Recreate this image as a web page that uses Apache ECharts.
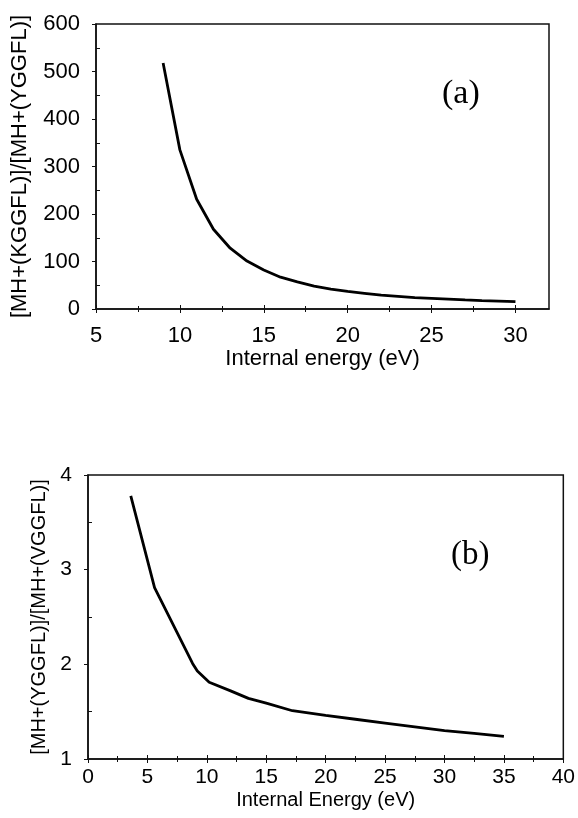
<!DOCTYPE html>
<html>
<head>
<meta charset="utf-8">
<script src="https://cdn.jsdelivr.net/npm/echarts@6/dist/echarts.min.js"></script>
<style>
  html, body { margin: 0; padding: 0; background: #fff; }
  #chart { width: 578px; height: 818px; }
</style>
</head>
<body>
<div id="chart"></div>
<script>
// (a) [MH+(KGGFL)]/[MH+(YGGFL)] vs internal energy
const energyA = [9, 10, 11, 12, 13, 14, 15, 16, 17, 18, 19, 20, 21, 22, 23, 24, 25, 26, 27, 28, 29, 30]
const ratioA = [518, 335, 231, 168, 128, 101, 82, 67, 57, 48, 42, 37, 33, 29, 26.5, 24, 22.5, 21, 19, 17.5, 16.5, 15.5]

// (b) [MH+(YGGFL)]/[MH+(VGGFL)] vs internal energy
const energyB = [3.6, 5.6, 8.8, 9.2, 10.2, 12, 13.5, 15, 17.2, 20, 22.5, 25, 27.5, 30, 32.5, 35]
const ratioB = [3.78, 2.81, 2.01, 1.93, 1.81, 1.72, 1.64, 1.59, 1.51, 1.46, 1.42, 1.38, 1.34, 1.30, 1.27, 1.24]

// tick labels
const xTicksA = [5, 10, 15, 20, 25, 30]
const xMinorA = [7.5, 12.5, 17.5, 22.5, 27.5]
const yTicksA = [0, 100, 200, 300, 400, 500, 600]
const yMinorA = [50, 150, 250, 350, 450, 550]
const xTicksB = [0, 5, 10, 15, 20, 25, 30, 35, 40]
const xMinorB = [2.5, 7.5, 12.5, 17.5, 22.5, 27.5, 32.5, 37.5]
const yTicksB = [1, 2, 3, 4]
const yMinorB = [1.5, 2.5, 3.5]

const ink = '#111'
const sans = 'Liberation Sans, Arial, sans-serif'
const serif = 'Liberation Serif, Times New Roman, serif'

// extra axis that only draws tick marks (for crossing / minor ticks)
function tickAxis(grid, min, max, values, len, inside, position) {
  return {
    gridIndex: grid,
    type: 'value',
    min, max,
    position,
    axisLine: { show: false, onZero: false },
    axisTick: { show: true, customValues: values, length: len, inside, lineStyle: { color: ink, width: 1 } },
    axisLabel: { show: false },
    splitLine: { show: false },
  }
}

const chart = echarts.init(document.getElementById('chart'), null, { renderer: 'canvas' })

chart.setOption({
  animation: false,
  backgroundColor: '#fff',
  title: [
    {
      text: '(a)', left: 442, top: 77, padding: 0,
      textStyle: { fontFamily: serif, fontSize: 34, fontWeight: 'normal', color: '#000' },
    },
    {
      text: '(b)', left: 451, top: 539, padding: 0,
      textStyle: { fontFamily: serif, fontSize: 33, fontWeight: 'normal', color: '#000' },
    },
  ],
  grid: [
    { left: 96, top: 24, right: 29, bottom: 509, show: true, borderColor: ink, borderWidth: 1.5 },
    { left: 88, top: 475, right: 12, bottom: 59, show: true, borderColor: ink, borderWidth: 1.5 },
  ],
  xAxis: [
    {
      gridIndex: 0, type: 'value', min: 5, max: 32, position: 'bottom',
      name: 'Internal energy (eV)', nameLocation: 'middle', nameGap: 37,
      nameTextStyle: { fontFamily: sans, fontSize: 22, color: '#000' },
      axisLine: { onZero: false, lineStyle: { color: ink, width: 1.5 } },
      axisTick: { customValues: xTicksA, length: 4, lineStyle: { color: ink } },
      axisLabel: { customValues: xTicksA, fontFamily: sans, fontSize: 22, color: '#000', margin: 16 },
      splitLine: { show: false },
    },
    tickAxis(0, 5, 32, xTicksA, 4, true, 'bottom'),
    tickAxis(0, 5, 32, xMinorA, 3, false, 'bottom'),
    tickAxis(0, 5, 32, xMinorA, 3, true, 'bottom'),
    {
      gridIndex: 1, type: 'value', min: 0, max: 40, position: 'bottom',
      name: 'Internal Energy (eV)', nameLocation: 'middle', nameGap: 31,
      nameTextStyle: { fontFamily: sans, fontSize: 20, color: '#000' },
      axisLine: { onZero: false, lineStyle: { color: ink, width: 1.5 } },
      axisTick: { customValues: xTicksB, length: 4, lineStyle: { color: ink } },
      axisLabel: { customValues: xTicksB, fontFamily: sans, fontSize: 21, color: '#000', margin: 8 },
      splitLine: { show: false },
    },
    tickAxis(1, 0, 40, xTicksB, 4, true, 'bottom'),
    tickAxis(1, 0, 40, xMinorB, 3, false, 'bottom'),
    tickAxis(1, 0, 40, xMinorB, 3, true, 'bottom'),
  ],
  yAxis: [
    {
      gridIndex: 0, type: 'value', min: 0, max: 600, position: 'left',
      name: '[MH+(KGGFL)]/[MH+(YGGFL)]', nameLocation: 'middle', nameGap: 65, nameRotate: 90,
      nameTextStyle: { fontFamily: sans, fontSize: 22, color: '#000' },
      axisLine: { onZero: false, lineStyle: { color: ink, width: 1.5 } },
      axisTick: { customValues: yTicksA, length: 4, lineStyle: { color: ink } },
      axisLabel: { customValues: yTicksA, fontFamily: sans, fontSize: 22, color: '#000', margin: 16 },
      splitLine: { show: false },
    },
    tickAxis(0, 0, 600, yMinorA, 4, true, 'left'),
    {
      gridIndex: 1, type: 'value', min: 1, max: 4, position: 'left',
      name: '[MH+(YGGFL)]/[MH+(VGGFL)]', nameLocation: 'middle', nameGap: 34, nameRotate: 90,
      nameTextStyle: { fontFamily: sans, fontSize: 20, color: '#000' },
      axisLine: { onZero: false, lineStyle: { color: ink, width: 1.5 } },
      axisTick: { customValues: yTicksB, length: 4, lineStyle: { color: ink } },
      axisLabel: { customValues: yTicksB, fontFamily: sans, fontSize: 21, color: '#000', margin: 16 },
      splitLine: { show: false },
    },
    tickAxis(1, 1, 4, yMinorB, 4, true, 'left'),
  ],
  series: [
    {
      name: '(a)',
      type: 'line',
      xAxisIndex: 0,
      yAxisIndex: 0,
      data: energyA.map((e, i) => [e, ratioA[i]]),
      symbol: 'none',
      lineStyle: { color: '#000', width: 2.8 },
    },
    {
      name: '(b)',
      type: 'line',
      xAxisIndex: 4,
      yAxisIndex: 2,
      data: energyB.map((e, i) => [e, ratioB[i]]),
      symbol: 'none',
      lineStyle: { color: '#000', width: 2.8 },
    },
  ],
})
</script>
</body>
</html>
